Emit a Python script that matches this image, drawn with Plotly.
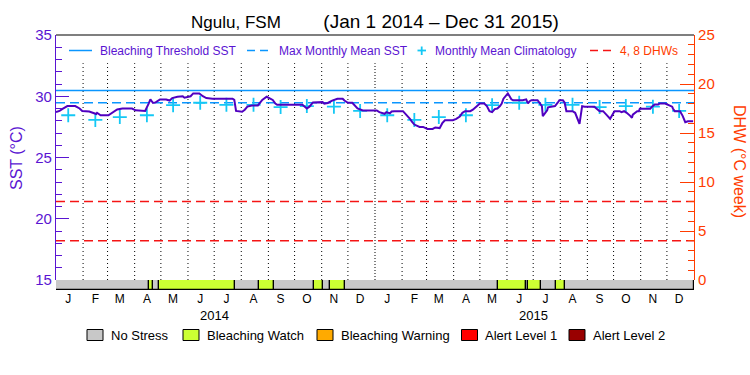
import plotly.graph_objects as go
import pandas as pd

# ---------------- data ----------------
sst_dates = [
    "2014-01-01", "2014-01-05", "2014-01-08", "2014-01-14", "2014-01-23", "2014-01-28", "2014-01-31",
    "2014-02-08", "2014-02-12", "2014-02-16", "2014-02-17", "2014-02-21",
    "2014-03-02", "2014-03-06", "2014-03-12", "2014-03-18", "2014-03-29",
    "2014-04-02", "2014-04-11", "2014-04-13", "2014-04-17", "2014-04-19", "2014-04-22", "2014-04-25", "2014-04-30",
    "2014-05-07", "2014-05-11", "2014-05-14", "2014-05-20", "2014-05-26", "2014-05-28",
    "2014-06-04", "2014-06-07", "2014-06-14", "2014-06-18", "2014-06-22", "2014-06-29",
    "2014-07-22", "2014-07-24", "2014-07-26",
    "2014-08-02", "2014-08-05", "2014-08-08", "2014-08-13", "2014-08-20", "2014-08-22", "2014-08-25", "2014-08-30",
    "2014-09-02", "2014-09-06", "2014-09-09", "2014-09-11",
    "2014-10-10", "2014-10-15", "2014-10-18", "2014-10-22",
    "2014-11-02", "2014-11-04", "2014-11-08", "2014-11-13", "2014-11-19", "2014-11-25", "2014-11-27",
    "2014-12-01", "2014-12-06", "2014-12-09", "2014-12-12", "2014-12-18",
    "2015-01-03", "2015-01-06", "2015-01-10", "2015-01-12", "2015-01-14", "2015-01-18", "2015-01-20", "2015-01-23",
    "2015-02-02", "2015-02-06", "2015-02-10", "2015-02-12", "2015-02-15", "2015-02-21", "2015-02-25",
    "2015-03-02", "2015-03-08", "2015-03-11", "2015-03-16", "2015-03-19", "2015-03-22", "2015-03-31",
    "2015-04-04", "2015-04-08", "2015-04-10", "2015-04-11", "2015-04-14", "2015-04-20", "2015-04-23", "2015-04-27",
    "2015-05-01", "2015-05-06", "2015-05-09", "2015-05-12", "2015-05-15", "2015-05-18", "2015-05-21", "2015-05-24",
    "2015-05-26", "2015-05-28", "2015-05-31",
    "2015-06-02", "2015-06-04", "2015-06-06", "2015-06-08", "2015-06-19", "2015-06-23", "2015-06-25", "2015-06-27",
    "2015-06-29",
    "2015-07-06", "2015-07-09", "2015-07-11", "2015-07-12", "2015-07-17", "2015-07-18", "2015-07-23", "2015-07-26",
    "2015-07-29", "2015-07-31",
    "2015-08-04", "2015-08-06", "2015-08-08", "2015-08-15", "2015-08-18", "2015-08-20", "2015-08-21", "2015-08-23",
    "2015-08-26", "2015-08-29",
    "2015-09-09", "2015-09-12", "2015-09-15", "2015-09-19", "2015-09-21", "2015-09-24", "2015-09-27", "2015-09-29",
    "2015-10-02", "2015-10-08", "2015-10-10", "2015-10-13", "2015-10-16", "2015-10-20", "2015-10-22", "2015-10-23",
    "2015-10-28", "2015-10-30", "2015-10-31",
    "2015-11-09", "2015-11-12", "2015-11-14", "2015-11-17", "2015-11-21", "2015-11-23", "2015-11-29",
    "2015-12-02", "2015-12-07", "2015-12-08", "2015-12-10", "2015-12-16", "2015-12-19", "2015-12-22", "2015-12-25",
    "2015-12-31",
]
sst_values = [
    28.70, 28.80, 28.95, 29.20, 29.20, 29.00, 28.80,
    28.75, 28.65, 28.55, 28.65, 28.45,
    28.45, 28.65, 28.92, 29.00, 29.00,
    28.85, 28.84, 28.80, 29.40, 29.74, 29.45, 29.50, 29.74,
    29.74, 29.65, 29.85, 29.95, 30.00, 29.88,
    30.00, 30.23, 30.23, 30.00, 29.85, 29.80,
    29.80, 29.70, 28.80,
    28.73, 28.90, 29.15, 29.25, 29.25, 29.45, 29.70, 29.96,
    29.85, 29.70, 29.40, 29.30,
    29.30, 29.00, 29.15, 29.50,
    29.52, 29.40, 29.45, 29.65, 29.80, 29.80, 29.65,
    29.47, 29.47, 29.25, 29.00, 28.84,
    28.84, 28.70, 28.57, 28.57, 28.70, 28.60, 28.75, 28.78,
    28.78, 28.50, 28.16, 27.95, 27.69, 27.50, 27.50,
    27.33, 27.33, 27.45, 27.40, 27.80, 28.04, 28.04,
    28.15, 28.35, 28.55, 28.65, 28.78, 28.78, 28.90, 29.15,
    29.41, 29.41, 29.20, 28.78, 28.70, 28.95, 29.00, 29.20,
    29.40, 29.80, 30.07,
    30.23, 30.00, 29.75, 29.68, 29.68, 29.75, 29.41, 29.60,
    29.68,
    29.68, 29.41, 29.20, 28.37, 28.85, 29.10, 29.20, 29.20,
    29.47, 29.68,
    29.68, 29.47, 28.78, 28.78, 28.65, 28.25, 28.00, 27.75,
    29.19, 29.14,
    29.14, 28.98, 28.78, 28.78, 28.65, 28.40, 28.16, 28.40,
    28.78, 28.78, 28.70, 28.78, 28.65, 28.40, 28.24, 28.50,
    28.78, 28.78, 28.98,
    28.98, 28.98, 29.15, 29.33, 29.33, 29.41, 29.41,
    29.33, 29.15, 28.98, 28.78, 28.78, 28.40, 27.88, 27.96,
    27.96,
]

clim_dates = [
    "2014-01-15", "2014-02-15", "2014-03-15", "2014-04-15", "2014-05-15", "2014-06-15",
    "2014-07-15", "2014-08-15", "2014-09-15", "2014-10-15", "2014-11-15", "2014-12-15",
    "2015-01-15", "2015-02-15", "2015-03-15", "2015-04-15", "2015-05-15", "2015-06-15",
    "2015-07-15", "2015-08-15", "2015-09-15", "2015-10-15", "2015-11-15", "2015-12-15",
]
clim_values = [
    28.45, 28.07, 28.30, 28.45, 29.27, 29.47, 29.30, 29.30, 29.12, 29.20, 29.15, 28.80,
    28.45, 28.07, 28.30, 28.45, 29.27, 29.47, 29.30, 29.30, 29.12, 29.20, 29.15, 28.80,
]

mmm_sst = 29.47
bleaching_threshold_sst = 30.47
dhw_levels = [4, 8]

status_start = ["2014-01-01", "2014-04-17", "2014-04-22", "2014-04-29", "2014-07-25", "2014-08-21",
                "2014-09-08", "2014-10-23", "2014-11-03", "2014-11-11", "2014-11-28", "2015-05-22",
                "2015-06-23", "2015-06-25", "2015-07-10", "2015-07-27", "2015-08-06"]
status_end = ["2014-04-17", "2014-04-22", "2014-04-29", "2014-07-25", "2014-08-21", "2014-09-08",
              "2014-10-23", "2014-11-03", "2014-11-11", "2014-11-28", "2015-05-22", "2015-06-23",
              "2015-06-25", "2015-07-10", "2015-07-27", "2015-08-06", "2016-01-01"]
status_level = ["No Stress", "Bleaching Watch", "No Stress", "Bleaching Watch", "No Stress", "Bleaching Watch",
                "No Stress", "Bleaching Watch", "No Stress", "Bleaching Watch", "No Stress", "Bleaching Watch",
                "No Stress", "Bleaching Watch", "No Stress", "Bleaching Watch", "No Stress"]

status_names = ["No Stress", "Bleaching Watch", "Bleaching Warning", "Alert Level 1", "Alert Level 2"]
status_colors = ["#C8C8C8", "#CCFF33", "#FFAA00", "#FF0000", "#990000"]

month_tick_dates = clim_dates
month_tick_labels = ["J", "F", "M", "A", "M", "J", "J", "A", "S", "O", "N", "D"] * 2
year_label_dates = ["2014-07-01", "2015-07-01"]
year_labels = ["2014", "2015"]

x_range = ["2014-01-01", "2016-01-01"]

# ---------------- styles ----------------
FONT = "Liberation Sans, Arial, sans-serif"
PURPLE = "#5A14D2"
LINE_PURPLE = "#5000C0"
ORANGE = "#FF3C00"
BLUE = "#0A96FF"
CYAN = "#14C8F5"
RED = "#F51414"

W, H = 750, 375
L, R, T, B = 56, 56, 35, 85
PW, PH = W - L - R, H - T - B
BAR_PX = 10
bar_frac = BAR_PX / PH


def px(xp):
    return (xp - L) / PW


def py(yp):
    return (H - B - yp) / PH


fig = go.Figure()

# status bar (bottom strip)
color_map = dict(zip(status_names, status_colors))
s0 = pd.to_datetime(status_start)
s1 = pd.to_datetime(status_end)
widths = [(b - a).total_seconds() * 1000 for a, b in zip(s0, s1)]
fig.add_trace(go.Bar(
    x=s0, y=[1] * len(s0), base=0, width=widths, offset=0,
    marker=dict(color=[color_map[s] for s in status_level], line=dict(color="black", width=1.2)),
    xaxis="x", yaxis="y3", hoverinfo="skip",
))

# threshold & MMM lines
fig.add_trace(go.Scatter(x=x_range, y=[bleaching_threshold_sst] * 2, mode="lines",
                         line=dict(color=BLUE, width=1.5), xaxis="x", yaxis="y"))
fig.add_trace(go.Scatter(x=x_range, y=[mmm_sst] * 2, mode="lines",
                         line=dict(color=BLUE, width=1.5, dash="9px,5px"), xaxis="x", yaxis="y"))

# DHW reference lines
for lvl in dhw_levels:
    fig.add_trace(go.Scatter(x=x_range, y=[lvl, lvl], mode="lines",
                             line=dict(color=RED, width=1.5, dash="9px,5px"), xaxis="x", yaxis="y2"))

# climatology crosses
fig.add_trace(go.Scatter(x=clim_dates, y=clim_values, mode="markers",
                         marker=dict(symbol="cross-thin", size=10, line=dict(color=CYAN, width=1.8)),
                         xaxis="x", yaxis="y"))

# SST line
fig.add_trace(go.Scatter(x=sst_dates, y=sst_values, mode="lines",
                         line=dict(color=LINE_PURPLE, width=2), xaxis="x", yaxis="y"))

# month gridlines (dotted)
shapes = []
month_starts = pd.date_range("2014-02-01", "2015-12-01", freq="MS")
for d in month_starts:
    dash = "1px,2px" if (d.month == 1) else "1px,3px"
    shapes.append(dict(type="line", xref="x", yref="y", x0=d, x1=d, y0=15, y1=32.7,
                       line=dict(color="black", width=1, dash=dash), layer="below"))

# top frame line
shapes.append(dict(type="line", xref="paper", yref="paper", x0=0, x1=1, y0=1, y1=1,
                   line=dict(color="black", width=1.2)))

# top legend samples
ly = py(50.5)
shapes.append(dict(type="line", xref="paper", yref="paper", x0=px(69), x1=px(92), y0=ly, y1=ly,
                   line=dict(color=BLUE, width=1.5)))
shapes.append(dict(type="line", xref="paper", yref="paper", x0=px(247), x1=px(272), y0=ly, y1=ly,
                   line=dict(color=BLUE, width=1.5, dash="8px,5px")))
shapes.append(dict(type="line", xref="paper", yref="paper", x0=px(417.5), x1=px(426), y0=ly, y1=ly,
                   line=dict(color=CYAN, width=1.8)))
shapes.append(dict(type="line", xref="paper", yref="paper", x0=px(421.7), x1=px(421.7), y0=py(46.5), y1=py(55),
                   line=dict(color=CYAN, width=1.8)))
shapes.append(dict(type="line", xref="paper", yref="paper", x0=px(590), x1=px(612), y0=ly, y1=ly,
                   line=dict(color=RED, width=1.5, dash="8px,5px")))

annotations = []
for txt, xl, col in [("Bleaching Threshold SST", 98, PURPLE), ("Max Monthly Mean SST", 277, PURPLE),
                     ("Monthly Mean Climatology", 433, PURPLE), ("4, 8 DHWs", 618, ORANGE)]:
    annotations.append(dict(text=txt, x=px(xl), y=ly, xref="paper", yref="paper", xanchor="left",
                            yanchor="middle", showarrow=False, font=dict(family=FONT, size=12, color=col)))

# bottom status legend
box_x = [87, 183, 317, 461.5, 569]
for name, col, bx in zip(status_names, status_colors, box_x):
    shapes.append(dict(type="rect", xref="paper", yref="paper", x0=px(bx), x1=px(bx + 16),
                       y0=py(340.5), y1=py(329.5), fillcolor=col, line=dict(color="black", width=1)))
    annotations.append(dict(text=name, x=px(bx + 21.5), y=py(335), xref="paper", yref="paper",
                            xanchor="left", yanchor="middle", showarrow=False,
                            font=dict(family=FONT, size=13, color="black")))

# year labels
for d, t in zip(year_label_dates, year_labels):
    annotations.append(dict(text=t, x=d, y=py(315), xref="x", yref="paper", xanchor="center",
                            yanchor="middle", showarrow=False, font=dict(family=FONT, size=13, color="black")))

# axis titles
annotations.append(dict(text="SST (°C)", x=px(16), y=py(158), xref="paper", yref="paper", textangle=-90,
                        showarrow=False, xanchor="center", yanchor="middle",
                        font=dict(family=FONT, size=16, color=PURPLE)))
annotations.append(dict(text="DHW (°C week)", x=px(740), y=py(161), xref="paper", yref="paper", textangle=90,
                        showarrow=False, xanchor="center", yanchor="middle",
                        font=dict(family=FONT, size=16, color=ORANGE)))

title_text = ("Ngulu, FSM" + "\u00a0" * 9 +
              "<span style='font-size:19px'>(Jan 1 2014 \u2013 Dec 31 2015)</span>")

fig.update_layout(
    width=W, height=H,
    margin=dict(l=L, r=R, t=T, b=B, pad=0),
    paper_bgcolor="white", plot_bgcolor="white",
    showlegend=False,
    font=dict(family=FONT, color="black"),
    title=dict(text=title_text,
               x=0.5, xanchor="center", y=1 - 22 / H, yanchor="middle", yref="container",
               font=dict(family=FONT, size=17, color="black")),
    bargap=0,
    xaxis=dict(
        type="date", range=x_range, anchor="y3", domain=[0, 1],
        tickmode="array", tickvals=month_tick_dates, ticktext=month_tick_labels,
        ticks="", showgrid=False, zeroline=False, showline=False,
        tickfont=dict(family=FONT, size=12, color="black"),
    ),
    yaxis=dict(
        domain=[bar_frac, 1], range=[15, 35], anchor="x",
        tickmode="linear", tick0=15, dtick=5,
        ticks="inside", ticklen=13, tickwidth=1, tickcolor=PURPLE,
        minor=dict(dtick=1, ticks="inside", ticklen=6, tickwidth=1, tickcolor=PURPLE),
        showline=True, linecolor=PURPLE, linewidth=1.2,
        showgrid=False, zeroline=False,
        tickfont=dict(family=FONT, size=15, color=PURPLE),
    ),
    yaxis2=dict(
        overlaying="y", side="right", range=[0, 25], anchor="x",
        tickmode="linear", tick0=0, dtick=5,
        ticks="inside", ticklen=14, tickwidth=1, tickcolor=ORANGE,
        minor=dict(dtick=1, ticks="inside", ticklen=6, tickwidth=1, tickcolor=ORANGE),
        showline=True, linecolor=ORANGE, linewidth=1.2,
        showgrid=False, zeroline=False,
        tickfont=dict(family=FONT, size=15, color=ORANGE),
    ),
    yaxis3=dict(domain=[0, bar_frac], range=[0, 1], anchor="x", visible=False, fixedrange=True),
    shapes=shapes,
    annotations=annotations,
)

fig.write_html("out.html", config={"displayModeBar": False},
               post_script="document.body.style.margin='0';")
